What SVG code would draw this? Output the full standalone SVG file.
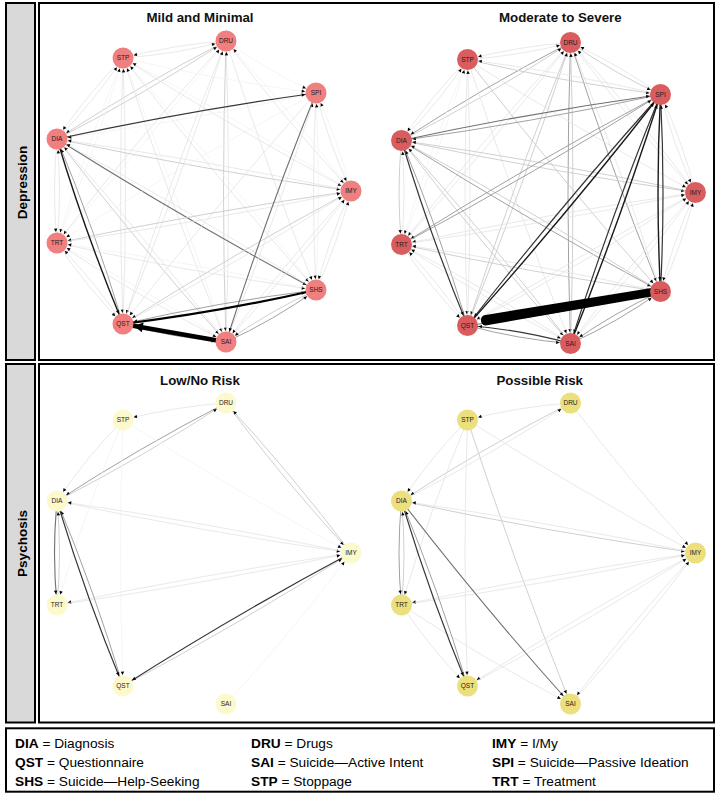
<svg xmlns="http://www.w3.org/2000/svg" width="720" height="798" viewBox="0 0 720 798">
<style>
.frame{fill:#fff;stroke:#000;stroke-width:2}
.strip{fill:#d9d9d9;stroke:#000;stroke-width:2}
.side{font-family:"Liberation Sans",Arial,sans-serif;font-weight:bold;font-size:13.5px;text-anchor:middle;fill:#000}
.title{font-family:"Liberation Sans",Arial,sans-serif;font-weight:bold;font-size:13.3px;text-anchor:middle;fill:#111}
.leg{font-family:"Liberation Sans",Arial,sans-serif;font-size:13.7px;fill:#000}
.leg .b{font-weight:bold}
#connectors path{fill:none;marker-end:url(#ah)}
.w0{stroke:#f1f1f1;stroke-width:.7}
.w1{stroke:#e3e3e3;stroke-width:.8}
.w2{stroke:#cbcbcb;stroke-width:.9}
.w3{stroke:#a2a2a2;stroke-width:1}
.w4{stroke:#707070;stroke-width:1.1}
.w5{stroke:#363636;stroke-width:1.2}
.w6{stroke:#1a1a1a;stroke-width:1.4}
.w7{stroke:#000;stroke-width:2.2}
#connectors path.thick{stroke:#000;stroke-width:4.5;marker-end:url(#ahb)}
#connectors path.band{fill:#000;stroke:none;marker-end:none}
.n text{font-family:"Liberation Sans",Arial,sans-serif;font-size:6.5px;text-anchor:middle;fill:#2a1a1a}
.tl circle{fill:#F07F7F}
.tr circle{fill:#D95D5F}
.bl circle{fill:#FCF9CC}
.br circle{fill:#ECDF7E}
</style>
<defs>
<marker id="ah" markerUnits="userSpaceOnUse" markerWidth="30" markerHeight="30" viewBox="-15 -15 30 30" refX="0" refY="0" orient="auto" overflow="visible"><path d="M-14.4,-1.7 L-11,0 L-14.4,1.7 Z" fill="#000"/></marker>
<marker id="ahb" markerUnits="userSpaceOnUse" markerWidth="40" markerHeight="40" viewBox="-20 -20 40 40" refX="0" refY="0" orient="auto" overflow="visible"><path d="M-20,-5 L-11,0 L-20,5 Z" fill="#000"/></marker>
</defs>

<rect class="strip" x="6" y="3" width="29" height="357"/>
<rect class="frame" x="39" y="3" width="675" height="357"/>
<rect class="strip" x="6" y="364" width="29" height="358.5"/>
<rect class="frame" x="39" y="364" width="675" height="358.5"/>
<rect class="frame" x="6" y="728.3" width="708" height="63.4"/>

<text class="side" transform="translate(26.5,182.5) rotate(-90)">Depression</text>
<text class="side" transform="translate(26.5,543.5) rotate(-90)">Psychosis</text>

<text class="title" x="200" y="22">Mild and Minimal</text>
<text class="title" x="560.3" y="22">Moderate to Severe</text>
<text class="title" x="200" y="384.5">Low/No Risk</text>
<text class="title" x="539.7" y="384.5">Possible Risk</text>

<g id="connectors">
<g id="edges-mild">
<path class="w1" d="M226,41 Q173.7,44.6 123,58"/>
<path class="w1" d="M123,58 Q175.3,54.4 226,41"/>
<path class="w2" d="M226,41 Q139,85.7 57,139"/>
<path class="w2" d="M57,139 Q144,94.3 226,41"/>
<path class="w1" d="M226,41 Q137.7,138.8 57,243"/>
<path class="w0" d="M57,243 Q145.3,145.2 226,41"/>
<path class="w1" d="M226,41 Q169.8,180.8 123,324"/>
<path class="w1" d="M123,324 Q179.2,184.2 226,41"/>
<path class="w2" d="M226,41 Q221,191.5 226,342"/>
<path class="w1" d="M226,342 Q231,191.5 226,41"/>
<path class="w1" d="M226,41 Q266.3,167.2 316,290"/>
<path class="w1" d="M226,41 Q284.7,119.2 351,191"/>
<path class="w0" d="M351,191 Q292.3,112.8 226,41"/>
<path class="w0" d="M226,41 Q268.5,71.3 316,93"/>
<path class="w1" d="M123,58 Q86.1,95.3 57,139"/>
<path class="w1" d="M57,139 Q93.9,101.7 123,58"/>
<path class="w0" d="M123,58 Q85.3,148.8 57,243"/>
<path class="w0" d="M57,243 Q94.7,152.2 123,58"/>
<path class="w1" d="M123,58 Q118,191 123,324"/>
<path class="w1" d="M123,324 Q128,191 123,58"/>
<path class="w1" d="M123,58 Q169.8,201.7 226,342"/>
<path class="w0" d="M226,342 Q179.2,198.3 123,58"/>
<path class="w1" d="M123,58 Q215.7,177.2 316,290"/>
<path class="w0" d="M316,290 Q223.3,170.8 123,58"/>
<path class="w1" d="M123,58 Q234.5,128.8 351,191"/>
<path class="w0" d="M351,191 Q239.5,120.2 123,58"/>
<path class="w0" d="M123,58 Q218.6,80.4 316,93"/>
<path class="w0" d="M316,93 Q187.4,120.9 57,139"/>
<path class="w2" d="M57,139 Q203.1,169.9 351,191"/>
<path class="w1" d="M351,191 Q204.9,160.1 57,139"/>
<path class="w4" d="M57,139 Q184,218.8 316,290"/>
<path class="w1" d="M316,290 Q189,210.2 57,139"/>
<path class="w2" d="M57,139 Q137.7,243.7 226,342"/>
<path class="w1" d="M226,342 Q145.3,237.3 57,139"/>
<path class="w3" d="M123,324 Q94.7,229.8 57,139"/>
<path class="w1" d="M57,139 Q52,191 57,243"/>
<path class="w1" d="M57,243 Q62,191 57,139"/>
<path class="w1" d="M316,93 Q328.8,143.7 351,191"/>
<path class="w0" d="M351,191 Q338.2,140.3 316,93"/>
<path class="w1" d="M316,93 Q311,191.5 316,290"/>
<path class="w0" d="M316,290 Q321,191.5 316,93"/>
<path class="w1" d="M226,342 Q275.7,219.2 316,93"/>
<path class="w1" d="M316,93 Q215.7,205.3 123,324"/>
<path class="w0" d="M316,93 Q184,163.7 57,243"/>
<path class="w2" d="M351,191 Q203.1,212.1 57,243"/>
<path class="w1" d="M57,243 Q204.9,221.9 351,191"/>
<path class="w1" d="M351,191 Q328.8,238.8 316,290"/>
<path class="w1" d="M316,290 Q338.2,242.2 351,191"/>
<path class="w2" d="M351,191 Q234.5,253.2 123,324"/>
<path class="w1" d="M123,324 Q239.5,261.8 351,191"/>
<path class="w1" d="M351,191 Q284.6,263.3 226,342"/>
<path class="w1" d="M226,342 Q292.4,269.7 351,191"/>
<path class="w1" d="M57,243 Q185.6,271.4 316,290"/>
<path class="w0" d="M316,290 Q187.4,261.6 57,243"/>
<path class="w1" d="M57,243 Q86.1,286.7 123,324"/>
<path class="w1" d="M123,324 Q93.9,280.3 57,243"/>
<path class="w1" d="M57,243 Q139,296.8 226,342"/>
<path class="w0" d="M226,342 Q144,288.2 57,243"/>
<path class="w3" d="M316,290 Q218.6,302.1 123,324"/>
<path class="w2" d="M316,290 Q268.5,311.7 226,342"/>
<path class="w3" d="M226,342 Q273.5,320.3 316,290"/>
<path class="w3" d="M123,324 Q173.6,337.9 226,342"/>
<path class="w4" d="M316,93 Q266.3,215.8 226,342"/>
<path class="w5" d="M57,139 Q185.6,111.1 316,93"/>
<path class="w6" d="M57,139 Q85.3,233.2 123,324"/>
<path class="w7" d="M123,324 Q220.4,311.9 316,290"/>
<path class="thick" d="M226,342 L123,324"/>
</g>
<g id="edges-moderate" transform="translate(344.5,1.5)">
<path class="w1" d="M226,41 Q173.7,44.6 123,58"/>
<path class="w1" d="M123,58 Q175.3,54.4 226,41"/>
<path class="w3" d="M226,41 Q139,85.7 57,139"/>
<path class="w2" d="M57,139 Q144,94.3 226,41"/>
<path class="w1" d="M226,41 Q137.7,138.8 57,243"/>
<path class="w1" d="M57,243 Q145.3,145.2 226,41"/>
<path class="w2" d="M226,41 Q169.8,180.8 123,324"/>
<path class="w2" d="M123,324 Q179.2,184.2 226,41"/>
<path class="w3" d="M226,41 Q221,191.5 226,342"/>
<path class="w2" d="M226,342 Q231,191.5 226,41"/>
<path class="w3" d="M226,41 Q266.3,167.2 316,290"/>
<path class="w1" d="M316,290 Q275.7,163.8 226,41"/>
<path class="w1" d="M226,41 Q284.7,119.2 351,191"/>
<path class="w1" d="M351,191 Q292.3,112.8 226,41"/>
<path class="w2" d="M226,41 Q268.5,71.3 316,93"/>
<path class="w1" d="M316,93 Q273.5,62.7 226,41"/>
<path class="w1" d="M123,58 Q86.1,95.3 57,139"/>
<path class="w1" d="M57,139 Q93.9,101.7 123,58"/>
<path class="w0" d="M123,58 Q85.3,148.8 57,243"/>
<path class="w0" d="M57,243 Q94.7,152.2 123,58"/>
<path class="w1" d="M123,58 Q118,191 123,324"/>
<path class="w1" d="M123,324 Q128,191 123,58"/>
<path class="w1" d="M123,58 Q169.8,201.7 226,342"/>
<path class="w2" d="M123,58 Q215.7,177.2 316,290"/>
<path class="w1" d="M123,58 Q234.5,128.8 351,191"/>
<path class="w2" d="M123,58 Q218.6,80.4 316,93"/>
<path class="w1" d="M316,93 Q220.4,70.6 123,58"/>
<path class="w2" d="M57,139 Q203.1,169.9 351,191"/>
<path class="w2" d="M351,191 Q204.9,160.1 57,139"/>
<path class="w3" d="M57,139 Q184,218.8 316,290"/>
<path class="w2" d="M316,290 Q189,210.2 57,139"/>
<path class="w2" d="M57,139 Q137.7,243.7 226,342"/>
<path class="w2" d="M226,342 Q145.3,237.3 57,139"/>
<path class="w3" d="M123,324 Q94.7,229.8 57,139"/>
<path class="w2" d="M57,139 Q52,191 57,243"/>
<path class="w1" d="M57,243 Q62,191 57,139"/>
<path class="w1" d="M316,93 Q328.8,143.7 351,191"/>
<path class="w1" d="M351,191 Q338.2,140.3 316,93"/>
<path class="w1" d="M351,191 Q203.1,212.1 57,243"/>
<path class="w1" d="M57,243 Q204.9,221.9 351,191"/>
<path class="w1" d="M351,191 Q328.8,238.8 316,290"/>
<path class="w1" d="M316,290 Q338.2,242.2 351,191"/>
<path class="w1" d="M351,191 Q234.5,253.2 123,324"/>
<path class="w1" d="M123,324 Q239.5,261.8 351,191"/>
<path class="w1" d="M351,191 Q284.6,263.3 226,342"/>
<path class="w1" d="M226,342 Q292.4,269.7 351,191"/>
<path class="w2" d="M57,243 Q185.6,271.4 316,290"/>
<path class="w1" d="M316,290 Q187.4,261.6 57,243"/>
<path class="w1" d="M57,243 Q86.1,286.7 123,324"/>
<path class="w1" d="M123,324 Q93.9,280.3 57,243"/>
<path class="w1" d="M57,243 Q139,296.8 226,342"/>
<path class="w1" d="M226,342 Q144,288.2 57,243"/>
<path class="w3" d="M316,93 Q184,163.7 57,243"/>
<path class="w3" d="M57,243 Q189,172.3 316,93"/>
<path class="w3" d="M316,93 Q187.4,120.9 57,139"/>
<path class="w4" d="M57,139 Q185.6,111.1 316,93"/>
<path class="w3" d="M316,290 Q268.5,311.7 226,342"/>
<path class="w3" d="M226,342 Q273.5,320.3 316,290"/>
<path class="w3" d="M123,324 Q173.6,337.9 226,342"/>
<path class="w4" d="M123,324 Q220.4,311.9 316,290"/>
<path class="w5" d="M57,139 Q85.3,233.2 123,324"/>
<path class="w5" d="M226,342 Q175.4,328.1 123,324"/>
<path class="w5" d="M316,290 Q321,191.5 316,93"/>
<path class="w6" d="M316,93 Q311,191.5 316,290"/>
<path class="w5" d="M316,93 Q266.3,215.8 226,342"/>
<path class="w6" d="M226,342 Q275.7,219.2 316,93"/>
<path class="w5" d="M316,93 Q215.7,205.3 123,324"/>
<path class="w6" d="M123,324 Q223.3,211.7 316,93"/>
<path class="band" d="M307,286.5 L141,313.5 A5.3,5.3 0 0 0 141,324 L307,295 Z"/>
</g>
<g id="edges-lowrisk" transform="translate(0,362)">
<path class="w1" d="M226,41 Q173.7,44.6 123,58"/>
<path class="w3" d="M226,41 Q139,85.7 57,139"/>
<path class="w2" d="M57,139 Q144,94.3 226,41"/>
<path class="w2" d="M226,41 Q284.7,119.2 351,191"/>
<path class="w2" d="M351,191 Q292.3,112.8 226,41"/>
<path class="w1" d="M123,58 Q86.1,95.3 57,139"/>
<path class="w0" d="M123,58 Q85.3,148.8 57,243"/>
<path class="w0" d="M123,58 Q118,191 123,324"/>
<path class="w0" d="M123,58 Q234.5,128.8 351,191"/>
<path class="w1" d="M57,139 Q203.1,169.9 351,191"/>
<path class="w1" d="M351,191 Q204.9,160.1 57,139"/>
<path class="w1" d="M351,191 Q203.1,212.1 57,243"/>
<path class="w1" d="M57,243 Q204.9,221.9 351,191"/>
<path class="w0" d="M226,342 Q292.4,269.7 351,191"/>
<path class="w2" d="M57,243 Q62,191 57,139"/>
<path class="w4" d="M57,139 Q52,191 57,243"/>
<path class="w3" d="M123,324 Q94.7,229.8 57,139"/>
<path class="w5" d="M57,139 Q85.3,233.2 123,324"/>
<path class="w2" d="M123,324 Q239.5,261.8 351,191"/>
<path class="w5" d="M351,191 Q234.5,253.2 123,324"/>
</g>
<g id="edges-possible" transform="translate(344.5,362)">
<path class="w1" d="M226,41 Q173.7,44.6 123,58"/>
<path class="w2" d="M226,41 Q139,85.7 57,139"/>
<path class="w1" d="M57,139 Q144,94.3 226,41"/>
<path class="w1" d="M226,41 Q284.7,119.2 351,191"/>
<path class="w1" d="M123,58 Q86.1,95.3 57,139"/>
<path class="w1" d="M123,58 Q85.3,148.8 57,243"/>
<path class="w1" d="M123,58 Q118,191 123,324"/>
<path class="w2" d="M123,58 Q169.8,201.7 226,342"/>
<path class="w1" d="M123,58 Q234.5,128.8 351,191"/>
<path class="w2" d="M57,139 Q203.1,169.9 351,191"/>
<path class="w1" d="M351,191 Q204.9,160.1 57,139"/>
<path class="w1" d="M351,191 Q203.1,212.1 57,243"/>
<path class="w1" d="M57,243 Q204.9,221.9 351,191"/>
<path class="w1" d="M351,191 Q234.5,253.2 123,324"/>
<path class="w1" d="M123,324 Q239.5,261.8 351,191"/>
<path class="w1" d="M351,191 Q284.6,263.3 226,342"/>
<path class="w1" d="M226,342 Q292.4,269.7 351,191"/>
<path class="w1" d="M57,243 Q86.1,286.7 123,324"/>
<path class="w1" d="M57,243 Q139,296.8 226,342"/>
<path class="w2" d="M57,243 Q62,191 57,139"/>
<path class="w3" d="M57,139 Q52,191 57,243"/>
<path class="w3" d="M123,324 Q94.7,229.8 57,139"/>
<path class="w4" d="M57,139 Q137.7,243.7 226,342"/>
<path class="w5" d="M57,139 Q85.3,233.2 123,324"/>
</g>
</g>

<g id="nodes">
<g id="nodes-mild" class="tl">
<g id="mild-DRU" class="n"><circle cx="226" cy="41" r="10.5"/><text x="226" y="43.3">DRU</text></g>
<g id="mild-STP" class="n"><circle cx="123" cy="58" r="10.5"/><text x="123" y="60.3">STP</text></g>
<g id="mild-SPI" class="n"><circle cx="316" cy="93" r="10.5"/><text x="316" y="95.3">SPI</text></g>
<g id="mild-DIA" class="n"><circle cx="57" cy="139" r="10.5"/><text x="57" y="141.3">DIA</text></g>
<g id="mild-IMY" class="n"><circle cx="351" cy="191" r="10.5"/><text x="351" y="193.3">IMY</text></g>
<g id="mild-TRT" class="n"><circle cx="57" cy="243" r="10.5"/><text x="57" y="245.3">TRT</text></g>
<g id="mild-SHS" class="n"><circle cx="316" cy="290" r="10.5"/><text x="316" y="292.3">SHS</text></g>
<g id="mild-QST" class="n"><circle cx="123" cy="324" r="10.5"/><text x="123" y="326.3">QST</text></g>
<g id="mild-SAI" class="n"><circle cx="226" cy="342" r="10.5"/><text x="226" y="344.3">SAI</text></g>
</g>
<g id="nodes-moderate" class="tr" transform="translate(344.5,1.5)">
<g id="mod-DRU" class="n"><circle cx="226" cy="41" r="10.5"/><text x="226" y="43.3">DRU</text></g>
<g id="mod-STP" class="n"><circle cx="123" cy="58" r="10.5"/><text x="123" y="60.3">STP</text></g>
<g id="mod-SPI" class="n"><circle cx="316" cy="93" r="10.5"/><text x="316" y="95.3">SPI</text></g>
<g id="mod-DIA" class="n"><circle cx="57" cy="139" r="10.5"/><text x="57" y="141.3">DIA</text></g>
<g id="mod-IMY" class="n"><circle cx="351" cy="191" r="10.5"/><text x="351" y="193.3">IMY</text></g>
<g id="mod-TRT" class="n"><circle cx="57" cy="243" r="10.5"/><text x="57" y="245.3">TRT</text></g>
<g id="mod-SHS" class="n"><circle cx="316" cy="290" r="10.5"/><text x="316" y="292.3">SHS</text></g>
<g id="mod-QST" class="n"><circle cx="123" cy="324" r="10.5"/><text x="123" y="326.3">QST</text></g>
<g id="mod-SAI" class="n"><circle cx="226" cy="342" r="10.5"/><text x="226" y="344.3">SAI</text></g>
</g>
<g id="nodes-lowrisk" class="bl" transform="translate(0,362)">
<g id="low-DRU" class="n"><circle cx="226" cy="41" r="10.5"/><text x="226" y="43.3">DRU</text></g>
<g id="low-STP" class="n"><circle cx="123" cy="58" r="10.5"/><text x="123" y="60.3">STP</text></g>
<g id="low-DIA" class="n"><circle cx="57" cy="139" r="10.5"/><text x="57" y="141.3">DIA</text></g>
<g id="low-IMY" class="n"><circle cx="351" cy="191" r="10.5"/><text x="351" y="193.3">IMY</text></g>
<g id="low-TRT" class="n"><circle cx="57" cy="243" r="10.5"/><text x="57" y="245.3">TRT</text></g>
<g id="low-QST" class="n"><circle cx="123" cy="324" r="10.5"/><text x="123" y="326.3">QST</text></g>
<g id="low-SAI" class="n"><circle cx="226" cy="342" r="10.5"/><text x="226" y="344.3">SAI</text></g>
</g>
<g id="nodes-possible" class="br" transform="translate(344.5,362)">
<g id="pos-DRU" class="n"><circle cx="226" cy="41" r="10.5"/><text x="226" y="43.3">DRU</text></g>
<g id="pos-STP" class="n"><circle cx="123" cy="58" r="10.5"/><text x="123" y="60.3">STP</text></g>
<g id="pos-DIA" class="n"><circle cx="57" cy="139" r="10.5"/><text x="57" y="141.3">DIA</text></g>
<g id="pos-IMY" class="n"><circle cx="351" cy="191" r="10.5"/><text x="351" y="193.3">IMY</text></g>
<g id="pos-TRT" class="n"><circle cx="57" cy="243" r="10.5"/><text x="57" y="245.3">TRT</text></g>
<g id="pos-QST" class="n"><circle cx="123" cy="324" r="10.5"/><text x="123" y="326.3">QST</text></g>
<g id="pos-SAI" class="n"><circle cx="226" cy="342" r="10.5"/><text x="226" y="344.3">SAI</text></g>
</g>
</g>

<g id="legend" class="leg">
<text x="15" y="747.5"><tspan class="b">DIA</tspan> = Diagnosis</text>
<text x="15" y="766.5"><tspan class="b">QST</tspan> = Questionnaire</text>
<text x="15" y="785.5"><tspan class="b">SHS</tspan> = Suicide—Help-Seeking</text>
<text x="251" y="747.5"><tspan class="b">DRU</tspan> = Drugs</text>
<text x="251" y="766.5"><tspan class="b">SAI</tspan> = Suicide—Active Intent</text>
<text x="251" y="785.5"><tspan class="b">STP</tspan> = Stoppage</text>
<text x="492" y="747.5"><tspan class="b">IMY</tspan> = I/My</text>
<text x="492" y="766.5"><tspan class="b">SPI</tspan> = Suicide—Passive Ideation</text>
<text x="492" y="785.5"><tspan class="b">TRT</tspan> = Treatment</text>
</g>
</svg>
